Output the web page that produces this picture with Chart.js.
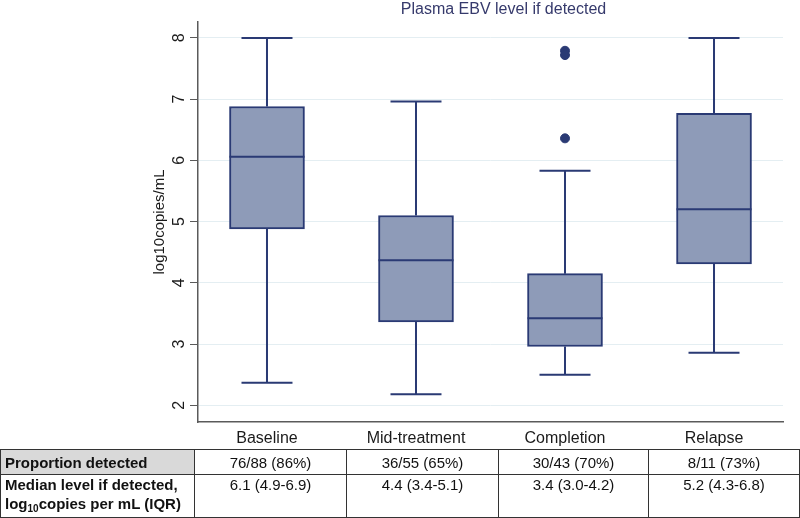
<!DOCTYPE html>
<html>
<head>
<meta charset="utf-8">
<script src="https://cdn.jsdelivr.net/npm/chart.js@4.4.1/dist/chart.umd.min.js"></script>
<style>
  html, body { margin: 0; padding: 0; background: #fff; }
  body { width: 800px; height: 518px; position: relative; overflow: hidden; font-family: "Liberation Sans", Arial, sans-serif; }
  #wrap { position: absolute; left: 0; top: 0; width: 800px; height: 450px; }
  table { position: absolute; left: 0; top: 449px; border-collapse: collapse; font-size: 15px; color: #111; table-layout: fixed; }
  td { border: 1.5px solid #333; padding: 0; }
  td.lab { font-weight: bold; text-align: left; padding-left: 4px; white-space: nowrap; }
  td.val { text-align: center; }
  tr.r1 td { height: 24px; vertical-align: middle; }
  tr.r1 td.lab { background: #d9d9d9; }
  tr.r2 td { height: 42px; vertical-align: top; line-height: 19px; padding-top: 0px; }
</style>
</head>
<body>
<div id="wrap"><canvas id="c"></canvas></div>
<table id="tbl">
  <colgroup><col style="width:194px"><col style="width:152px"><col style="width:152px"><col style="width:150px"><col style="width:151px"></colgroup>
  <tr class="r1"><td class="lab" id="rowlab1"></td></tr>
  <tr class="r2"><td class="lab" id="rowlab2"></td></tr>
</table>
<script>
const titleText = "Plasma EBV level if detected";
const yAxisTitle = "log10copies/mL";
const categories = ["Baseline", "Mid-treatment", "Completion", "Relapse"];
const whiskerLow  = [2.37, 2.18, 2.50, 2.86];
const q1          = [4.88, 3.36, 2.96, 4.31];
const median      = [6.06, 4.37, 3.42, 5.20];
const q3          = [6.88, 5.10, 4.15, 6.77];
const whiskerHigh = [8.00, 6.96, 5.83, 8.00];
const outlierCat  = [2, 2, 2];
const outlierVal  = [7.79, 7.72, 6.36];
const yTicks = [2, 3, 4, 5, 6, 7, 8];
const proportionDetected = ["76/88 (86%)", "36/55 (65%)", "30/43 (70%)", "8/11 (73%)"];
const medianIQR = ["6.1 (4.9-6.9)", "4.4 (3.4-5.1)", "3.4 (3.0-4.2)", "5.2 (4.3-6.8)"];

// table
const r1 = document.querySelector("tr.r1"), r2 = document.querySelector("tr.r2");
document.getElementById("rowlab1").textContent = "Proportion detected";
document.getElementById("rowlab2").innerHTML = "Median level if detected,<br>log<sub style=\"font-size:10px;vertical-align:-3px;line-height:0\">10</sub>copies per mL (IQR)";
proportionDetected.forEach(t => { const td = document.createElement("td"); td.className = "val"; td.textContent = t; r1.appendChild(td); });
medianIQR.forEach(t => { const td = document.createElement("td"); td.className = "val"; td.textContent = t; r2.appendChild(td); });

const NAVY = "#2a3a74";
const FILL = "#8e9bb8";

const boxPlugin = {
  id: "boxExtras",
  afterDatasetsDraw(chart) {
    const ctx = chart.ctx, xs = chart.scales.x, ys = chart.scales.y;
    ctx.save();
    ctx.strokeStyle = NAVY;
    ctx.lineWidth = 2;
    categories.forEach((c, i) => {
      const x = xs.getPixelForValue(i);
      const half = 37.5, cap = 25.5;
      const yl = ys.getPixelForValue(whiskerLow[i]), yq1 = ys.getPixelForValue(q1[i]);
      const yq3 = ys.getPixelForValue(q3[i]), yh = ys.getPixelForValue(whiskerHigh[i]);
      const ym = ys.getPixelForValue(median[i]);
      ctx.beginPath();
      ctx.moveTo(x, yq1); ctx.lineTo(x, yl);
      ctx.moveTo(x - cap, yl); ctx.lineTo(x + cap, yl);
      ctx.moveTo(x, yq3); ctx.lineTo(x, yh);
      ctx.moveTo(x - cap, yh); ctx.lineTo(x + cap, yh);
      ctx.moveTo(x - half, ym); ctx.lineTo(x + half, ym);
      ctx.stroke();
    });
    ctx.restore();
  },
  afterDraw(chart) {
    const ctx = chart.ctx, a = chart.chartArea;
    ctx.save();
    ctx.fillStyle = "#363a6c";
    ctx.font = "16px 'Liberation Sans', Arial, sans-serif";
    ctx.textAlign = "center";
    ctx.textBaseline = "middle";
    ctx.fillText(titleText, (a.left + a.right) / 2 + 13, 10);
    ctx.restore();
  }
};

new Chart(document.getElementById("c"), {
  type: "bar",
  data: {
    datasets: [
      {
        type: "bar",
        data: categories.map((c, i) => ({ x: i, y: [q1[i], q3[i]] })),
        backgroundColor: FILL,
        borderColor: NAVY,
        borderWidth: 2,
        borderSkipped: false,
        barThickness: 75,
        order: 2
      },
      {
        type: "scatter",
        data: outlierVal.map((v, i) => ({ x: outlierCat[i], y: v })),
        backgroundColor: NAVY,
        borderColor: NAVY,
        pointRadius: 4.5,
        pointHoverRadius: 4.5,
        order: 1
      }
    ]
  },
  options: {
    responsive: true,
    maintainAspectRatio: false,
    animation: false,
    events: [],
    layout: { padding: { left: 144, right: 17, top: 22, bottom: 0 } },
    plugins: { legend: { display: false }, tooltip: { enabled: false }, title: { display: false } },
    scales: {
      x: {
        type: "linear",
        min: -0.463,
        max: 3.463,
        offset: false,
        afterBuildTicks: s => { s.ticks = categories.map((c, i) => ({ value: i })); },
        afterFit: s => { s.height = 28; },
        ticks: {
          callback: v => categories[v],
          font: { size: 16, family: "'Liberation Sans', Arial, sans-serif" },
          color: "#1a1a1a",
          padding: 7,
          maxRotation: 0,
          autoSkip: false
        },
        grid: { display: false, drawTicks: false },
        border: { display: true, color: "#5a5a5a", width: 1.5 }
      },
      y: {
        type: "linear",
        min: 1.727,
        max: 8.26,
        afterBuildTicks: s => { s.ticks = yTicks.map(v => ({ value: v })); },
        afterFit: s => { s.width = 54; },
        ticks: {
          minRotation: 90,
          maxRotation: 90,
          crossAlign: "center",
          padding: 6,
          font: { size: 16, family: "'Liberation Sans', Arial, sans-serif" },
          color: "#1a1a1a"
        },
        grid: { color: "#e4eef2", lineWidth: 1, tickLength: 8, tickColor: "#5a5a5a", drawTicks: true },
        border: { display: true, color: "#5a5a5a", width: 1.5 },
        title: {
          display: true,
          text: yAxisTitle,
          font: { size: 15, family: "'Liberation Sans', Arial, sans-serif" },
          color: "#1a1a1a",
          padding: { top: 7, bottom: 0 }
        }
      }
    }
  },
  plugins: [boxPlugin]
});
</script>
</body>
</html>
